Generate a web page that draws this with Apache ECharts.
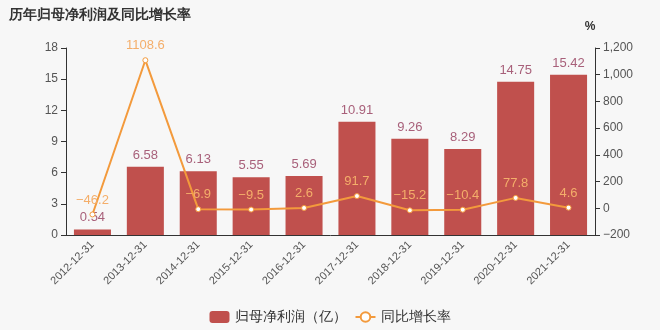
<!DOCTYPE html>
<html>
<head>
<meta charset="utf-8">
<script src="https://cdn.jsdelivr.net/npm/echarts@6/dist/echarts.min.js"></script>
<style>
  html, body { margin: 0; padding: 0; background: #f7f7f7; }
  #main { width: 660px; height: 330px; }
</style>
</head>
<body>
<div id="main"></div>
<script>
var years = ['2012-12-31', '2013-12-31', '2014-12-31', '2015-12-31', '2016-12-31',
  '2017-12-31', '2018-12-31', '2019-12-31', '2020-12-31', '2021-12-31'];
var profit = [0.54, 6.58, 6.13, 5.55, 5.69, 10.91, 9.26, 8.29, 14.75, 15.42];
var growth = [-46.2, 1108.6, -6.9, -9.5, 2.6, 91.7, -15.2, -10.4, 77.8, 4.6];

function minus(v) { return String(v).replace('-', '\u2212'); }

var chart = echarts.init(document.getElementById('main'));
var option = {
  backgroundColor: '#f7f7f7',
  title: {
    text: '历年归母净利润及同比增长率',
    left: 4,
    top: 3,
    textStyle: { fontSize: 14, fontWeight: 'bold', color: '#333' }
  },
  legend: {
    bottom: 1,
    left: 'center',
    itemWidth: 20,
    itemHeight: 12,
    textStyle: { fontSize: 14, color: '#333' },
    data: [
      { name: '归母净利润（亿）', icon: 'roundRect' },
      { name: '同比增长率' }
    ]
  },
  grid: { left: 66, right: 65, top: 48, bottom: 95 },
  xAxis: {
    type: 'category',
    data: years,
    axisLine: { lineStyle: { color: '#333' } },
    axisTick: { lineStyle: { color: '#333' } },
    axisLabel: { rotate: 45, color: '#555', fontSize: 11, interval: 0 }
  },
  yAxis: [
    {
      type: 'value',
      min: 0, max: 18, interval: 3,
      splitLine: { show: false },
      axisLine: { show: true, lineStyle: { color: '#333' } },
      axisTick: { show: true },
      axisLabel: { color: '#555', fontSize: 12 }
    },
    {
      type: 'value',
      name: '%',
      nameTextStyle: { fontWeight: 'bold', color: '#333', fontSize: 12, padding: [0, 0, 0, -10] },
      min: -200, max: 1200, interval: 200,
      splitLine: { show: false },
      axisLine: { show: true, lineStyle: { color: '#333' } },
      axisTick: { show: true },
      axisLabel: {
        color: '#555', fontSize: 12,
        formatter: function (v) { return minus(echarts.format.addCommas(v)); }
      }
    }
  ],
  series: [
    {
      name: '归母净利润（亿）',
      type: 'bar',
      data: profit,
      barWidth: '70%',
      itemStyle: { color: '#c0504d' },
      label: { show: true, position: 'top', color: '#a8607a', fontSize: 13 }
    },
    {
      name: '同比增长率',
      type: 'line',
      yAxisIndex: 1,
      data: growth,
      symbol: 'circle',
      symbolSize: 5,
      itemStyle: { color: '#fff', borderColor: '#f39a3c', borderWidth: 1 },
      lineStyle: { color: '#f39a3c', width: 2 },
      label: {
        show: true, position: 'top', color: '#f4ae6a', fontSize: 13,
        formatter: function (p) { return minus(p.value); }
      }
    }
  ]
};
chart.setOption(option);
</script>
</body>
</html>
